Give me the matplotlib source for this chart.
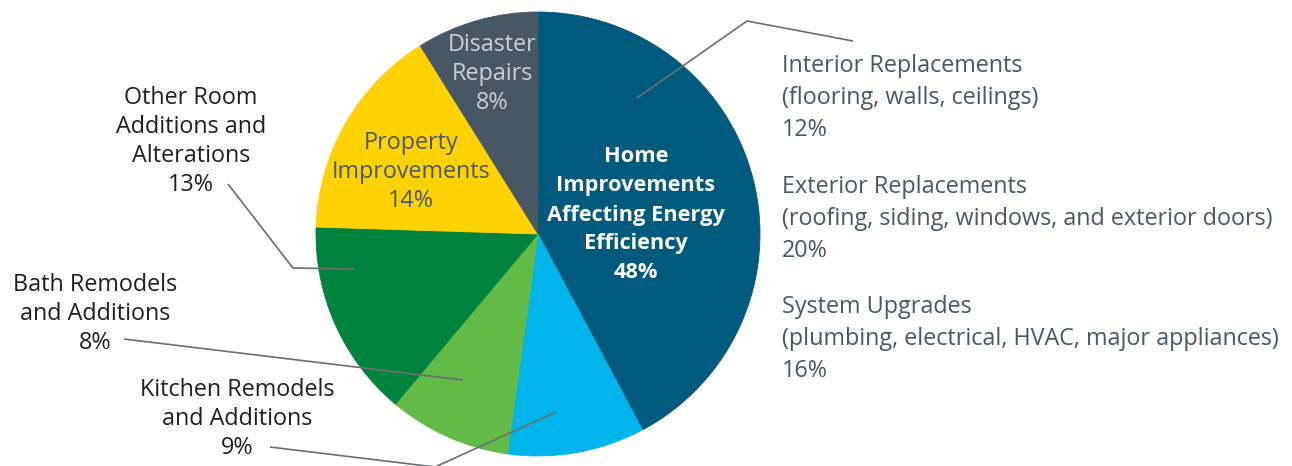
import matplotlib.pyplot as plt

# slice shares as drawn (clockwise from 12 o'clock)
slice_names = ["Home Improvements Affecting Energy Efficiency", "Kitchen Remodels and Additions",
               "Bath Remodels and Additions", "Other Room Additions and Alterations",
               "Property Improvements", "Disaster Repairs"]
slice_shares = [42.2, 10.0, 8.9, 14.4, 15.6, 8.9]
slice_pcts = ["48%", "9%", "8%", "13%", "14%", "8%"]
slice_colors = ["#005A7D", "#00B5EC", "#62BB46", "#00843D", "#FFD200", "#475764"]

sub_names = ["Interior Replacements", "Exterior Replacements", "System Upgrades"]
sub_details = ["(flooring, walls, ceilings)",
               "(roofing, siding, windows, and exterior doors)",
               "(plumbing, electrical, HVAC, major appliances)"]
sub_pcts = ["12%", "20%", "16%"]

W, H = 1292, 466
FONT = "Open Sans"
SIZE = 16.8
LINE_C = "#6D6E71"

fig = plt.figure(figsize=(W / 100, H / 100), dpi=100)

# pie: centre (538, 234) px, radius 222 px
ax = fig.add_axes([316 / W, 10 / H, 444 / W, 444 / H])
wedges, _ = ax.pie(slice_shares, colors=slice_colors, startangle=90, counterclock=False,
                   radius=1, wedgeprops=dict(linewidth=0.6))
for w in wedges:
    w.set_edgecolor(w.get_facecolor())
ax.set_xlim(-1, 1)
ax.set_ylim(-1, 1)
ax.set_aspect("equal")
ax.axis("off")

# overlay in pixel coordinates for labels and leader lines
ov = fig.add_axes([0, 0, 1, 1])
ov.set_xlim(0, W)
ov.set_ylim(H, 0)
ov.axis("off")
ov.patch.set_alpha(0)


def block(x, y0, lines, step, ha="center", color="#231F20", weight="normal", size=SIZE):
    for i, s in enumerate(lines):
        ov.text(x, y0 + i * step, s, ha=ha, va="center", fontsize=size, family=FONT,
                color=color, fontweight=weight)


# labels inside the pie
block(636, 157, ["Home", "Improvements", "Affecting Energy", "Efficiency", slice_pcts[0]], 29,
      color="white", weight="bold", size=15.7)
block(411, 143, ["Property", "Improvements", slice_pcts[4]], 29, color="#4B5A68")
block(492, 45, ["Disaster", "Repairs", slice_pcts[5]], 29, color="#C9CFD4")

# labels on the left
block(191, 98, ["Other Room", "Additions and", "Alterations", slice_pcts[3]], 29)
block(95, 285, ["Bath Remodels", "and Additions", slice_pcts[2]], 29)
block(237, 390, ["Kitchen Remodels", "and Additions", slice_pcts[1]], 29)

# breakdown of the energy-efficiency slice on the right
for y0, name, det, pct in zip([66, 187, 307], sub_names, sub_details, sub_pcts):
    block(782, y0, [name, det, pct], 32, ha="left", color="#4A5866")

# leader lines
leaders = [
    [(637, 98), (747, 21), (853, 41)],
    [(228, 184), (293, 268), (355, 269)],
    [(124, 339), (463, 380)],
    [(270, 447), (435, 467), (556, 412)],
]
for pts in leaders:
    xs, ys = zip(*pts)
    ov.plot(xs, ys, color=LINE_C, lw=1.2, solid_capstyle="butt", clip_on=False)

fig.savefig("out.png", dpi=100)
